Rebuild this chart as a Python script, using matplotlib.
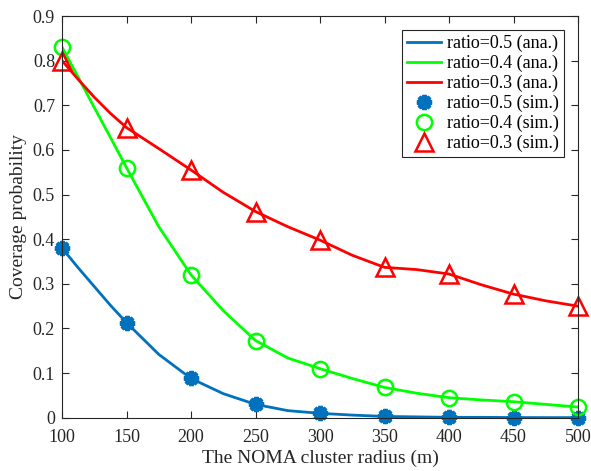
import matplotlib.pyplot as plt
import numpy as np

plt.rcParams['font.family'] = ['Liberation Serif', 'DejaVu Serif']

# simulated points
radius = [100, 150, 200, 250, 300, 350, 400, 450, 500]
sim_05 = [0.380, 0.213, 0.088, 0.030, 0.010, 0.003, 0.001, 0.0005, 0.0003]
sim_04 = [0.830, 0.560, 0.320, 0.173, 0.110, 0.068, 0.045, 0.036, 0.024]
sim_03 = [0.800, 0.650, 0.555, 0.462, 0.398, 0.337, 0.322, 0.277, 0.250]

# analytical curves, finer radius grid
radius_ana = [100, 112.5, 125, 137.5, 150, 175, 200, 225, 250, 275, 300, 325, 350, 375, 400, 425, 450, 475, 500]
ana_05 = [0.380, 0.336, 0.294, 0.252, 0.213, 0.142, 0.088, 0.054, 0.030, 0.016, 0.010, 0.006, 0.003, 0.002, 0.001, 0.001, 0.0005, 0.0004, 0.0003]
ana_04 = [0.830, 0.763, 0.695, 0.628, 0.560, 0.428, 0.320, 0.240, 0.173, 0.134, 0.110, 0.088, 0.068, 0.055, 0.045, 0.040, 0.036, 0.030, 0.024]
ana_03 = [0.800, 0.758, 0.718, 0.682, 0.650, 0.603, 0.555, 0.505, 0.462, 0.428, 0.398, 0.364, 0.337, 0.332, 0.322, 0.298, 0.277, 0.262, 0.250]

c_blue = '#0072BD'
c_green = '#00FF00'
c_red = '#FF0000'
c_text = '#262626'

fig = plt.figure(figsize=(5.91, 4.71), dpi=100)
ax = fig.add_axes([0.105, 0.113, 0.873, 0.853])

ax.plot(radius_ana, ana_05, color=c_blue, lw=2, label='ratio=0.5 (ana.)')
ax.plot(radius_ana, ana_04, color=c_green, lw=2, label='ratio=0.4 (ana.)')
ax.plot(radius_ana, ana_03, color=c_red, lw=2, label='ratio=0.3 (ana.)')
ax.plot(radius, sim_05, ls='none', marker=(8, 2, 0), ms=11, mew=3,
        color=c_blue, label='ratio=0.5 (sim.)', clip_on=False)
ax.plot(radius, sim_04, ls='none', marker='o', ms=11, mew=1.8, mfc='none',
        color=c_green, label='ratio=0.4 (sim.)', clip_on=False)
ax.plot(radius, sim_03, ls='none', marker='^', ms=13, mew=1.8, mfc='none',
        color=c_red, label='ratio=0.3 (sim.)', clip_on=False)

ax.set_xlim(100, 500)
ax.set_ylim(0, 0.9)
ax.set_xticks(np.arange(100, 501, 50))
ax.set_yticks(np.arange(0, 0.91, 0.1))
ax.set_yticklabels(['0', '0.1', '0.2', '0.3', '0.4', '0.5', '0.6', '0.7', '0.8', '0.9'])
ax.tick_params(direction='in', top=True, right=True, labelsize=13, length=5,
               width=0.8, colors=c_text)
ax.tick_params(axis='x', pad=8)
ax.tick_params(axis='y', pad=5)
for s in ax.spines.values():
    s.set_linewidth(0.8)
    s.set_color(c_text)

ax.set_xlabel('The NOMA cluster radius (m)', fontsize=14, color=c_text, labelpad=3)
ax.set_ylabel('Coverage probability', fontsize=14, color=c_text, labelpad=4)

leg = ax.legend(loc='upper right', fontsize=13, fancybox=False, framealpha=1,
                edgecolor=c_text, borderpad=0.25, labelspacing=0.15,
                handlelength=1.9, handletextpad=0.35, borderaxespad=0.8)
leg.get_frame().set_linewidth(0.8)

fig.savefig('out.png', dpi=100)
